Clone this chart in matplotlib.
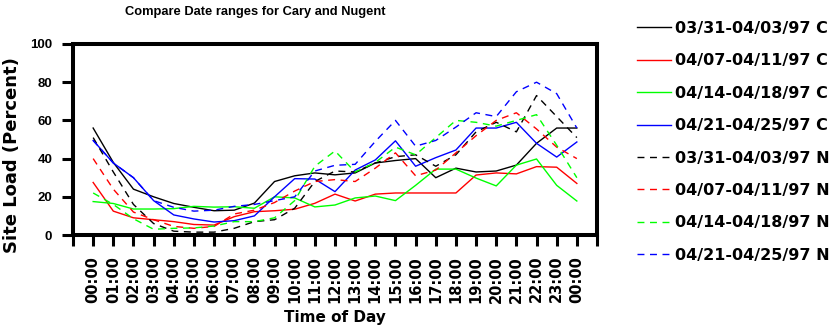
import numpy as np
import matplotlib
matplotlib.use("Agg")
from matplotlib import pyplot as plt

plt.rcParams['font.family'] = ['Liberation Sans', 'DejaVu Sans']
plt.rcParams['font.weight'] = 'bold'
WIDE = ['DejaVu Sans']

# hourly site load, percent
hours = list(range(25))
hour_labels = ["%02d:00" % (h % 24) for h in hours]

cary_0331 = [56, 38, 24, 20, 16.5, 14.5, 12.7, 13, 16.7, 28, 31, 32.5, 31.5, 32.5, 37.7, 39, 40, 30, 35, 33, 33.5, 36.6, 48, 56, 56]
cary_0407 = [27.5, 12.5, 9, 8, 7, 5.5, 5.2, 9.6, 12.2, 12.7, 13.5, 16.6, 21.4, 17.8, 21.4, 22, 22, 22, 22, 31.4, 32.5, 32, 35.8, 35.5, 27]
cary_0414 = [17.5, 16.5, 13.6, 13.6, 13.8, 15, 14.6, 14.8, 14, 20, 19.4, 14.7, 15.7, 19.4, 20.4, 18, 26, 34.5, 34.5, 29.8, 25.7, 36.6, 39.8, 26, 17.8]
cary_0421 = [49.5, 37.7, 30, 18, 10.5, 8.4, 6.8, 7.5, 10, 20, 29.5, 29.3, 22.7, 34, 39.3, 49.3, 36, 40.5, 44.5, 56, 56, 59, 48, 40.8, 48.7]
nugent_0331 = [51, 33, 16, 6, 2, 1.5, 1.5, 3.5, 7, 8, 14, 28, 33.5, 33, 37.7, 41, 42, 36, 42, 54, 59, 54, 73, 62, 51]
nugent_0407 = [40, 24, 12, 8, 4.5, 3.5, 4.5, 11, 13, 17, 23, 28, 29, 28, 35, 43, 31, 34, 43, 52, 60, 64, 55.5, 46, 40]
nugent_0414 = [22, 16, 8.5, 3, 3.5, 3.7, 4.7, 7, 7, 9, 18, 36, 44, 33, 38, 46, 42, 51, 60, 59, 57, 60, 63, 47, 30]
nugent_0421 = [49.5, 37.7, 30, 18, 14.5, 12.5, 13, 15, 16, 18, 20, 33.5, 36.5, 37, 49, 60, 46.5, 49.5, 56.5, 64, 62, 75, 80, 74, 56]

series = [
    ("03/31-04/03/97 C", cary_0331, "black", "-"),
    ("04/07-04/11/97 C", cary_0407, "#ff0000", "-"),
    ("04/14-04/18/97 C", cary_0414, "#00ff00", "-"),
    ("04/21-04/25/97 C", cary_0421, "#0000ff", "-"),
    ("03/31-04/03/97 N", nugent_0331, "black", (0, (5, 4))),
    ("04/07-04/11/97 N", nugent_0407, "#ff0000", (0, (5, 4))),
    ("04/14-04/18/97 N", nugent_0414, "#00ff00", (0, (5, 4))),
    ("04/21-04/25/97 N", nugent_0421, "#0000ff", (0, (5, 4))),
]

W, H = 840, 328
fig = plt.figure(figsize=(W / 100, H / 100), dpi=100)
ax = fig.add_axes([73 / W, 1 - 235 / H, (597 - 73) / W, (235 - 44) / H])

for name, vals, col, ls in series:
    ax.plot(hours, vals, color=col, linestyle=ls, linewidth=1.0, label=name)

ax.set_xlim(-1, 25)
ax.set_ylim(0, 100)
ax.set_xticks(range(-1, 26))
ax.set_xticklabels([""] + hour_labels + [""], rotation=90, fontsize=10.5, fontweight='bold', family=WIDE)
ax.set_yticks(range(0, 101, 20))
ax.set_yticklabels([str(v) for v in range(0, 101, 20)], fontsize=9.5, fontweight='bold')
ax.tick_params(direction='out', length=8, width=2.2, pad=7)
for sp in ax.spines.values():
    sp.set_linewidth(2.9)

ax.set_xlabel("Time of Day", fontsize=11, fontweight='bold', family=WIDE, labelpad=5)
fig.text(12 / W, 1 - 155 / H, "Site Load (Percent)", rotation=90, ha='center', va='center',
         fontsize=13, fontweight='bold', family=WIDE)
fig.text(255 / W, 1 - 12 / H, "Compare Date ranges for Cary and Nugent", ha='center', va='center',
         fontsize=9.3, fontweight='bold')

ax.legend(loc='upper left', bbox_to_anchor=(637 / W, 1 - 21 / H), bbox_transform=fig.transFigure,
          frameon=False, prop={'size': 11.5, 'weight': 'bold', 'family': WIDE}, handlelength=2.1,
          handletextpad=0.3, labelspacing=1.09, borderpad=0, borderaxespad=0)

fig.savefig("out.png", dpi=100)
